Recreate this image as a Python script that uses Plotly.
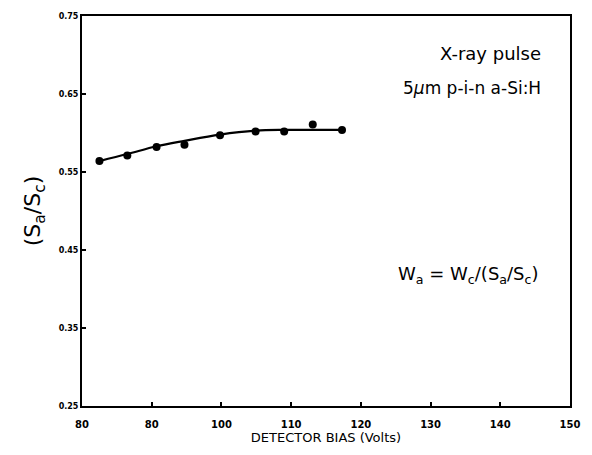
import plotly.graph_objects as go

bias = [82.5, 86.5, 90.7, 94.7, 99.8, 104.9, 109.0, 113.1, 117.3]
ratio = [0.564, 0.571, 0.582, 0.585, 0.597, 0.602, 0.602, 0.611, 0.604]

fit_bias = [82.5, 86.5, 90.7, 94.7, 99.8, 104.9, 109.0, 113.1, 117.3]
fit_ratio = [0.564, 0.573, 0.583, 0.590, 0.598, 0.603, 0.604, 0.604, 0.604]

x_ticks = [80, 90, 100, 110, 120, 130, 140, 150]
x_ticktext = ["80", "80", "100", "110", "120", "130", "140", "150"]
y_ticks = [0.25, 0.35, 0.45, 0.55, 0.65, 0.75]
y_ticktext = ["0.25", "0.35", "0.45", "0.55", "0.65", "0.75"]

fig = go.Figure()
fig.add_trace(go.Scatter(x=fit_bias, y=fit_ratio, mode="lines",
                         line=dict(color="black", width=2.2, shape="spline"),
                         showlegend=False, hoverinfo="skip"))
fig.add_trace(go.Scatter(x=bias, y=ratio, mode="markers",
                         marker=dict(color="black", size=8),
                         showlegend=False))

fig.add_annotation(x=0.945, y=0.905, xref="paper", yref="paper", xanchor="right", yanchor="middle",
                   text="X-ray pulse", showarrow=False,
                   font=dict(family="DejaVu Sans", size=18, color="black"))
fig.add_annotation(x=0.945, y=0.815, xref="paper", yref="paper", xanchor="right", yanchor="middle",
                   text="5<i>μ</i>m p-i-n a-Si:H", showarrow=False,
                   font=dict(family="DejaVu Sans", size=17, color="black"))
fig.add_annotation(x=0.94, y=0.335, xref="paper", yref="paper", xanchor="right", yanchor="middle",
                   text="W<sub>a</sub> = W<sub>c</sub>/(S<sub>a</sub>/S<sub>c</sub>)", showarrow=False,
                   font=dict(family="DejaVu Sans", size=18, color="black"))

fig.update_xaxes(range=[80, 150], tickvals=x_ticks, ticktext=x_ticktext,
                 ticks="inside", ticklen=4, tickwidth=1.5, tickcolor="black",
                 showline=True, linewidth=2, linecolor="black", mirror=True,
                 showgrid=False, zeroline=False, ticklabelstandoff=8,
                 tickfont=dict(family="DejaVu Sans", size=10, color="black", weight="bold"),
                 title=dict(text="DETECTOR BIAS (Volts)", standoff=4,
                            font=dict(family="DejaVu Sans", size=13, color="black")))
fig.update_yaxes(range=[0.25, 0.75], tickvals=y_ticks, ticktext=y_ticktext,
                 ticks="inside", ticklen=4, tickwidth=1.5, tickcolor="black",
                 showline=True, linewidth=2, linecolor="black", mirror=True,
                 showgrid=False, zeroline=False,
                 tickfont=dict(family="DejaVu Sans", size=8, color="black", weight="bold"),
                 title=dict(text="(S<sub>a</sub>/S<sub>c</sub>)", standoff=12,
                            font=dict(family="DejaVu Sans", size=22, color="black")))

fig.update_layout(width=592, height=455, margin=dict(l=82, r=20, t=14, b=47),
                  paper_bgcolor="white", plot_bgcolor="white")

fig.write_html("out.html")
